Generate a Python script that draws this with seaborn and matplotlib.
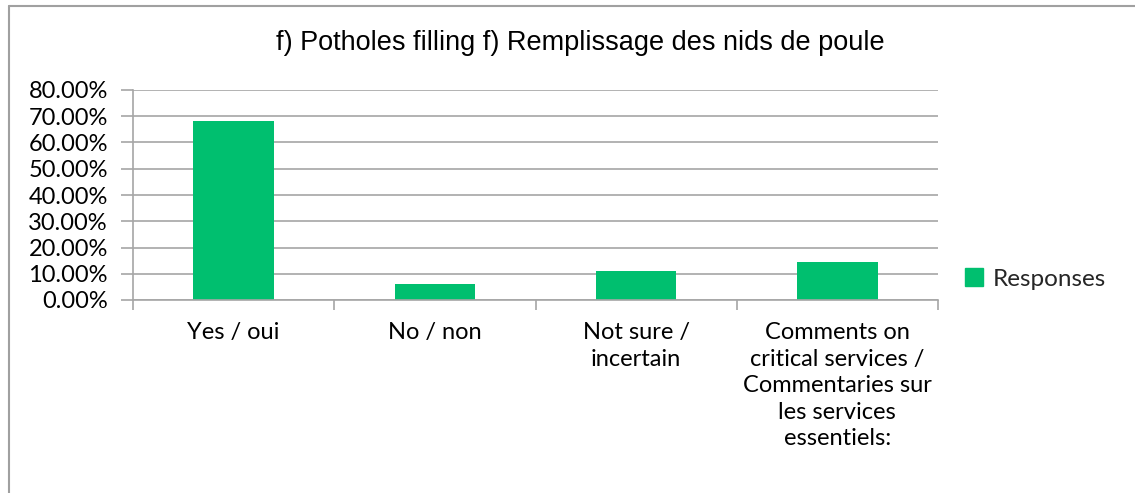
import matplotlib
matplotlib.use("Agg")
import matplotlib.pyplot as plt
import matplotlib.lines as mlines
import matplotlib.patches as mpatches
from matplotlib.ticker import PercentFormatter, FixedLocator
import seaborn as sns
import pandas as pd

# chart data
categories = [
    "Yes / oui",
    "No / non",
    "Not sure /\nincertain",
    "Comments on\ncritical services /\nCommentaries sur\nles services\nessentiels:",
]
responses = [68.2, 6.1, 11.1, 14.4]  # percent
series_name = "Responses"

df = pd.DataFrame({"Category": categories, "Value": responses})

sns.set_theme(style="white")
plt.rcParams["font.family"] = ["Lato", "DejaVu Sans"]

green = "#00BF6F"
grid_gray = "#A6A6A6"

fig = plt.figure(figsize=(11.35, 4.93), dpi=100)
ax = fig.add_axes([133 / 1135, 1 - 300 / 493, (938 - 133) / 1135, 210 / 493])

sns.barplot(data=df, x="Category", y="Value", color=green, width=0.4,
            saturation=1, ax=ax, edgecolor="none")

ax.set_ylim(0, 80)
ax.set_xlim(-0.5, len(categories) - 0.5)
ax.set_yticks(range(0, 81, 10))
ax.yaxis.set_major_formatter(PercentFormatter(decimals=2))
ax.yaxis.grid(True, color=grid_gray, linewidth=1.2)
ax.set_axisbelow(True)
ax.set_xlabel("")
ax.set_ylabel("")

for side in ["top", "right"]:
    ax.spines[side].set_visible(False)
for side in ["left", "bottom"]:
    ax.spines[side].set_color(grid_gray)
    ax.spines[side].set_linewidth(1.2)

ax.tick_params(axis="y", which="major", left=True, length=9, width=1.2,
               color=grid_gray, labelsize=17, pad=9, labelcolor="black")
ax.tick_params(axis="x", which="major", bottom=False, length=0,
               labelsize=17, pad=16, labelcolor="black")
for lbl in ax.get_xticklabels():
    lbl.set_verticalalignment("top")
    lbl.set_multialignment("center")
    lbl.set_linespacing(1.32)

# boundary tick marks between categories
ax.xaxis.set_minor_locator(FixedLocator([i - 0.5 for i in range(len(categories) + 1)]))
ax.tick_params(axis="x", which="minor", bottom=True, length=7, width=1.2,
               color=grid_gray)

fig.text(580 / 1135, 1 - 43 / 493, "f) Potholes filling f) Remplissage des nids de poule",
         ha="center", va="center", fontsize=19.5, family="Liberation Sans",
         color="black")

handle = mpatches.Patch(color=green, label=series_name)
fig.legend(handles=[handle], loc="center left",
           bbox_to_anchor=(943 / 1135, 1 - 279 / 493), frameon=False,
           fontsize=17.5, handlelength=0.75, handleheight=0.75, handletextpad=0.4)

# outer chart border
fig.add_artist(mlines.Line2D([9 / 1135, 9 / 1135], [0, 1 - 6 / 493],
                             color="#A0A0A0", linewidth=1.5))
fig.add_artist(mlines.Line2D([9 / 1135, 1], [1 - 6 / 493, 1 - 6 / 493],
                             color="#A0A0A0", linewidth=1.5))

fig.savefig("out.png", dpi=100)
